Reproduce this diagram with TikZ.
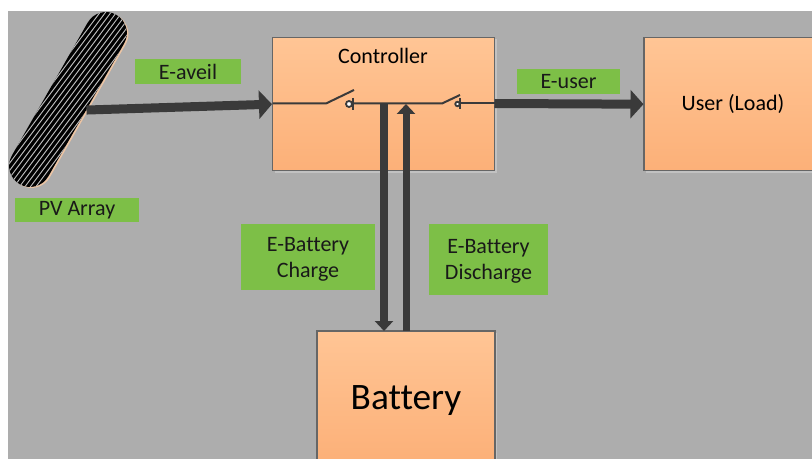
\documentclass[tikz,border=0pt]{standalone}
\usepackage{fontspec}
\setmainfont{Carlito}[Ligatures=NoCommon]
\usetikzlibrary{arrows.meta,shapes.misc}
\definecolor{bggray}{HTML}{ADADAD}
\definecolor{shadowgray}{HTML}{C2C2C2}
\definecolor{lblgreen}{HTML}{7DBF47}
\definecolor{orangetop}{HTML}{FFC595}
\definecolor{orangebot}{HTML}{FCB078}
\definecolor{dark}{HTML}{3A3A3A}
\definecolor{peach}{HTML}{EBC4A4}
\def\px{0.75pt}
\newcommand{\lowertext}[2]{\raisebox{-#1}[\height][\depth]{#2}}
\tikzset{
  x=0.75pt,y=-0.75pt,
  block/.style={draw=black!60,line width=0.8pt,top color=orangetop,bottom color=orangebot,inner sep=0pt,minimum width=#1*\px,
    preaction={fill=shadowgray,transform canvas={xshift=1.6pt,yshift=-1.2pt}}},
  label/.style={fill=lblgreen,inner sep=0pt,align=center,font=\fontsize{16.5}{19.5}\selectfont,text=black!90},
  capsule/.style={rounded rectangle,inner sep=0pt,rotate=60.3,minimum width=195*\px,minimum height=42*\px},
  bigarrow/.style={draw=dark,line width=#1*\px,-{Triangle[length=13*\px,width=28*\px]}},
  vertarrow/.style={draw=dark,line width=#1*\px,-{Triangle[length=10*\px,width=18*\px]}},
  wire/.style={draw=dark,line width=2*\px},
  contact/.style={circle,draw=dark,fill=white,line width=1.8*\px,minimum size=6*\px,inner sep=0pt},
}
\begin{document}
\begin{tikzpicture}
\path[use as bounding box] (0,0) rectangle (812,459);
\clip (0,0) rectangle (812,459);
\fill[white] (0,0) rectangle (812,459);
\fill[bggray] (8,11) rectangle (812,459);
% boxes
\node[block=222,minimum height=133.5*\px] (ctrl) at (383.5,104.2) {};
\node[font=\fontsize{16.5}{20}\selectfont] (ctrltext) at (383,56) {Controller};
\node[block=178,minimum height=133.5*\px,font=\fontsize{16.5}{20}\selectfont] (user) at (733,104.2) {User (Load)};
\node[block=178,minimum height=132*\px,font=\fontsize{28}{32}\selectfont] (batt) at (406,397) {\lowertext{2.4pt}{Battery}};
% PV array
\node[capsule,fill=peach] (pvedge) at (69.5,100.5) {};
\node[capsule,fill=black] (pv) at (68,99.5) {};
\begin{scope}[shift={(pv.center)},rotate=60.3]
\clip (-76.5,21) -- (76.5,21) arc (90:-90:21) -- (-76.5,-21) arc (-90:-270:21) -- cycle;
\begin{scope}[rotate=-7]
\foreach \d in {-39.6,-35.2,...,39.7}{
  \draw[white!75!black,line width=0.7pt] (-115,\d) -- (115,\d);
}
\end{scope}
\end{scope}
% switches and wires
\coordinate (jL) at (326,103.5);
\coordinate (armL) at (354,90);
\coordinate (barL) at (353,103.5);
\coordinate (jR) at (442,103.5);
\coordinate (armR) at (460,95);
\coordinate (barR) at (460,103.5);
\coordinate (busin) at (272.5,103.5);
\coordinate (busout) at (494.5,103.5);
\draw[wire] (busin) -- (jL) -- (armL);
\draw[wire] (barL) -- (jR) -- (armR);
\draw[wire] (barR) -- (busout);
\node[contact] (cL) at (349,104) {};
\node[contact,minimum size=4.5*\px] (cR) at (457.5,104) {};
\draw[wire] (353,98) -- (353,110);
\draw[wire] (460,98.5) -- (460,109.5);
% arrows
\coordinate (vd) at (384,103.5);
\coordinate (vdend) at (384,331);
\coordinate (vu) at (406,331);
\coordinate (vuend) at (406,104);
\draw[bigarrow=9] (pv.south) -- (ctrl.west);
\draw[bigarrow=9] (busout) -- (user.west);
\draw[vertarrow=8] (vd) -- (vdend);
\draw[vertarrow=7] (vu) -- (vuend);
% labels
\node[label,minimum width=106*\px,minimum height=25*\px] (l1) at (188,71.5) {E-aveil};
\node[label,minimum width=124*\px,minimum height=24*\px] (l2) at (77,210) {\lowertext{0.4pt}{PV Array}};
\node[label,minimum width=103*\px,minimum height=24.5*\px] (l3) at (568.5,81.5) {E-user};
\node[label,minimum width=134*\px,minimum height=66*\px] (l4) at (308,257) {\lowertext{1.7pt}{\begin{tabular}{@{}c@{}}E-Battery\\Charge\end{tabular}}};
\node[label,minimum width=119*\px,minimum height=71*\px] (l5) at (488.5,259.5) {\lowertext{1pt}{\begin{tabular}{@{}c@{}}E-Battery\\Discharge\end{tabular}}};
\end{tikzpicture}
\end{document}
